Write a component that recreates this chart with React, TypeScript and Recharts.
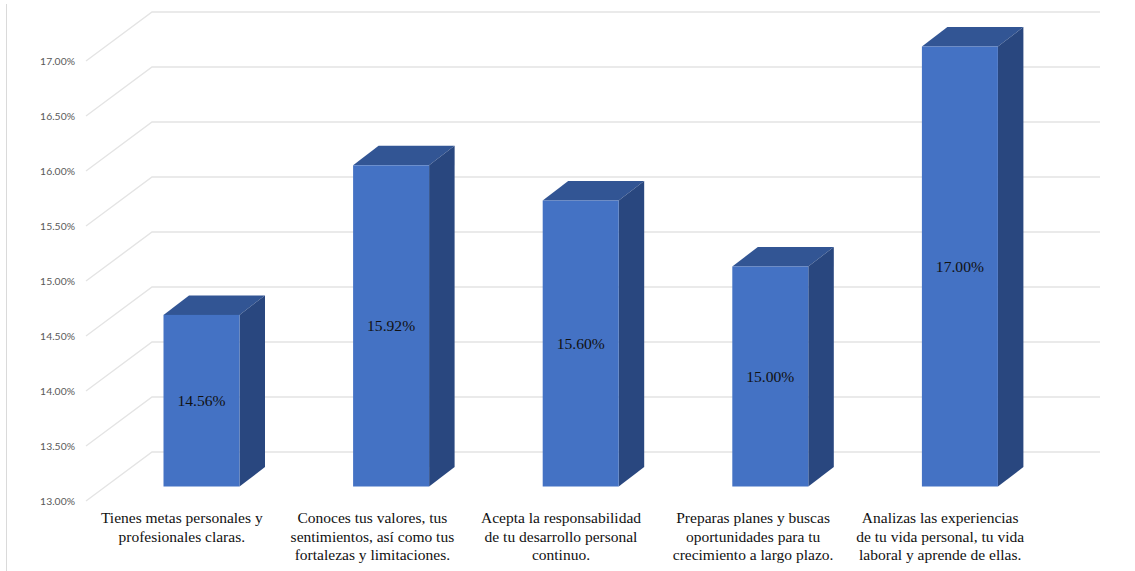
import React from "react";
import { BarChart, Bar, XAxis, YAxis, CartesianGrid, LabelList } from "recharts";

const categoryLines: string[][] = [
  ["Tienes metas personales y", "profesionales claras."],
  ["Conoces tus valores, tus", "sentimientos, así como tus", "fortalezas y limitaciones."],
  ["Acepta la responsabilidad", "de tu desarrollo personal", "continuo."],
  ["Preparas planes y buscas", "oportunidades para tu", "crecimiento a largo plazo."],
  ["Analizas las experiencias", "de tu vida personal, tu vida", "laboral y aprende de ellas."],
];
const seriesValues: number[] = [14.56, 15.92, 15.6, 15.0, 17.0];
const yTicks: number[] = [13, 13.5, 14, 14.5, 15, 15.5, 16, 16.5, 17];

const tableRows = categoryLines.map((lines, i) => ({
  name: lines.join(" "),
  value: seriesValues[i],
}));

// Oblique projection: the floor runs back by this much from the axis plane to the rear wall.
const FLOOR_DX = 66;
const FLOOR_DY = -49;
// Front face of each column sits part-way into the floor; its own depth is smaller.
const FACE_DX = 20.5;
const FACE_DY = -14.5;
const BOX_DX = 25.5;
const BOX_DY = -19.5;

// Category captions sit slightly right of their band centres.
const CAPTION_SHIFT = [1, 2, 1, 3.5, 1];

const SERIF = "'Liberation Serif', 'Times New Roman', serif";

function Column(props: any) {
  const x = props.x + FACE_DX;
  const y = props.y + FACE_DY;
  const w = props.width;
  const h = props.height;
  return (
    <g>
      <path
        d={`M${x} ${y}L${x + BOX_DX} ${y + BOX_DY}L${x + w + BOX_DX} ${y + BOX_DY}L${x + w} ${y}Z`}
        fill="#325594"
      />
      <path
        d={`M${x + w} ${y}L${x + w + BOX_DX} ${y + BOX_DY}L${x + w + BOX_DX} ${y + h + BOX_DY}L${x + w} ${y + h}Z`}
        fill="#29477F"
      />
      <rect x={x} y={y} width={w} height={h} fill="#4472C4" />
    </g>
  );
}

function WallLine(props: any) {
  const { x1, y1, x2 } = props;
  return (
    <path
      d={`M${x1} ${y1}L${x1 + FLOOR_DX} ${y1 + FLOOR_DY}L${x2 + FLOOR_DX} ${y1 + FLOOR_DY}`}
      fill="none"
      stroke="#E4E4E4"
      strokeWidth={1.4}
    />
  );
}

function CategoryTick(props: any) {
  const { x, payload, index } = props;
  const i0 = index ?? payload.index;
  const lines = categoryLines[i0] ?? [payload.value];
  const cx = x + (CAPTION_SHIFT[i0] ?? 0);
  return (
    <text x={cx} textAnchor="middle" fontFamily={SERIF} fontSize={15.5} fill="#111111">
      {lines.map((line, i) => (
        <tspan key={line} x={cx} y={523 + i * 18.5}>
          {line}
        </tspan>
      ))}
    </text>
  );
}

function ValueLabel(props: any) {
  const { x, y, width, height, value } = props;
  return (
    <text
      x={x + FACE_DX + width / 2}
      y={y + FACE_DY + height / 2 + 5}
      textAnchor="middle"
      fontFamily={SERIF}
      fontSize={15.6}
      fill="#111111"
    >
      {Number(value).toFixed(2)}%
    </text>
  );
}

export default function App() {
  return (
    <div style={{ position: "absolute", left: 0, top: 0, width: 1135, height: 571, background: "#fff" }}>
      <div style={{ position: "absolute", left: 6, top: 4, bottom: 0, width: 1, background: "#DADADA" }} />
      <BarChart
        width={1135}
        height={571}
        data={tableRows}
        margin={{ top: 61, right: 101, bottom: 0, left: 0 }}
      >
        <CartesianGrid horizontal={(p: any) => <WallLine key={p.key ?? p.y1} {...p} />} vertical={false} syncWithTicks />
        <XAxis
          dataKey="name"
          axisLine={false}
          tickLine={false}
          height={70}
          interval={0}
          tick={(p: any) => <CategoryTick {...p} />}
        />
        <YAxis
          width={86}
          domain={[13, 17]}
          ticks={yTicks}
          axisLine={false}
          tickLine={false}
          tickMargin={5}
          tick={{ fontFamily: "Lato, 'Open Sans', sans-serif", fontSize: 10.4, fill: "#595959" }}
          tickFormatter={(v: number) => `${v.toFixed(2)}%`}
        />
        <Bar dataKey="value" barSize={76} shape={(p: any) => <Column {...p} />} isAnimationActive={false}>
          <LabelList dataKey="value" content={(p: any) => <ValueLabel {...p} />} />
        </Bar>
      </BarChart>
    </div>
  );
}
